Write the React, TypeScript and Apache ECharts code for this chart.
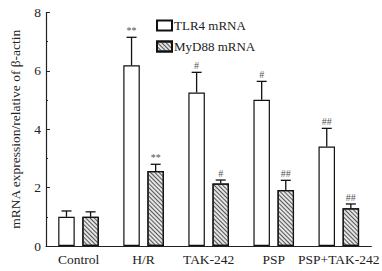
import React, { useEffect, useRef } from "react";
import * as echarts from "echarts";

const categories = ["Control", "H/R", "TAK-242", "PSP", "PSP+TAK-242"];
const tlr4 = [1.0, 6.19, 5.26, 5.01, 3.41];
const tlr4Err = [0.2, 0.96, 0.69, 0.63, 0.62];
const tlr4Marks = ["", "**", "#", "#", "##"];
const myd88 = [1.0, 2.57, 2.14, 1.92, 1.29];
const myd88Err = [0.17, 0.23, 0.12, 0.33, 0.15];
const myd88Marks = ["", "**", "#", "##", "##"];
const yTicks = [0, 2, 4, 6, 8];

const FONT = "'Liberation Serif', 'Times New Roman', serif";
const BAR_W = 16.5;
const GAP_PX = 7.6;
const OFFSET = (BAR_W + GAP_PX) / 2;

function errSeries(name: string, vals: number[], errs: number[], marks: string[], offset: number) {
  return {
    type: "custom",
    name,
    z: 5,
    data: vals.map((v, i) => [i, v, errs[i]]),
    renderItem: (params: any, api: any) => {
      const i = api.value(0);
      const v = api.value(1);
      const e = api.value(2);
      const base = api.coord([i, v]);
      const top = api.coord([i, v + e]);
      const x = base[0] + offset;
      const style = { stroke: "#111", lineWidth: 1.3 };
      const children: any[] = [
        { type: "line", shape: { x1: x, y1: base[1], x2: x, y2: top[1] }, style },
        { type: "line", shape: { x1: x - 5, y1: top[1], x2: x + 5, y2: top[1] }, style },
      ];
      const m = marks[params.dataIndex];
      if (m) {
        children.push({
          type: "text",
          x,
          y: top[1] - 1.5,
          style: {
            text: m,
            fill: "#555",
            font: `10px ${FONT}`,
            align: "center",
            verticalAlign: "bottom",
          },
        });
      }
      return { type: "group", children };
    },
  };
}

export default function App() {
  const ref = useRef<HTMLDivElement>(null);
  useEffect(() => {
    if (!ref.current) return;
    const chart = echarts.init(ref.current, null, { renderer: "svg" });
    chart.setOption({
      animation: false,
      backgroundColor: "#fff",
      textStyle: { fontFamily: FONT },
      grid: { left: 41, right: 10, top: 12.5, bottom: 25 },
      legend: {
        data: ["TLR4 mRNA", "MyD88 mRNA"],
        orient: "vertical",
        left: 151,
        top: 14,
        itemWidth: 15,
        itemHeight: 10,
        itemGap: 8,
        icon: "rect",
        textStyle: { fontFamily: FONT, fontSize: 13, color: "#222", padding: [0, 0, 0, -3] },
      },
      xAxis: {
        type: "category",
        data: categories,
        axisLine: { lineStyle: { color: "#222", width: 1.2 } },
        axisTick: { show: false },
        axisLabel: { interval: 0, fontFamily: FONT, fontSize: 13.5, color: "#222", margin: 6 },
      },
      yAxis: {
        type: "value",
        min: yTicks[0],
        max: yTicks[yTicks.length - 1],
        interval: 2,
        name: "mRNA expression/relative of β-actin",
        nameLocation: "middle",
        nameRotate: 90,
        nameGap: 24,
        nameTextStyle: { fontFamily: FONT, fontSize: 13.5, color: "#222" },
        splitLine: { show: false },
        axisLine: { show: true, lineStyle: { color: "#222", width: 1.2 } },
        axisTick: { show: true, inside: true, length: 4, lineStyle: { color: "#222" } },
        minorTick: { show: true, splitNumber: 2, length: 2, lineStyle: { color: "#222" } },
        axisLabel: { fontFamily: FONT, fontSize: 13.5, color: "#222", margin: 5 },
      },
      series: [
        {
          type: "bar",
          name: "TLR4 mRNA",
          data: tlr4,
          barWidth: BAR_W,
          barGap: `${(GAP_PX / BAR_W) * 100}%`,
          itemStyle: { color: "#fff", borderColor: "#111", borderWidth: 1.2 },
        },
        {
          type: "bar",
          name: "MyD88 mRNA",
          data: myd88,
          barWidth: BAR_W,
          itemStyle: {
            color: "#e4e4e4",
            borderColor: "#111",
            borderWidth: 1.2,
            decal: {
              symbol: "rect",
              symbolSize: 1,
              dashArrayX: [1, 0],
              dashArrayY: [0.7, 1.7],
              rotation: Math.PI / 4,
              color: "#555",
            },
          },
        },
        errSeries("e1", tlr4, tlr4Err, tlr4Marks, -OFFSET),
        errSeries("e2", myd88, myd88Err, myd88Marks, OFFSET),
      ],
    });
    return () => chart.dispose();
  }, []);
  return (
    <div
      ref={ref}
      style={{ position: "fixed", left: 0, top: 0, width: 382, height: 271 }}
    />
  );
}
